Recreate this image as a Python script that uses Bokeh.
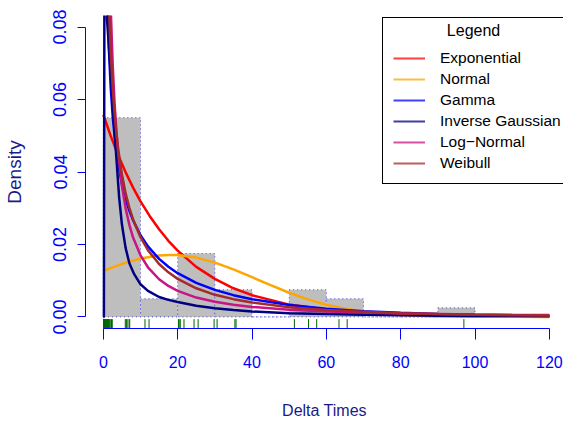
import math
from bokeh.plotting import figure
from bokeh.models import Range1d, FixedTicker, PrintfTickFormatter, Legend, LegendItem, Label
from bokeh.embed import file_html
from bokeh.resources import INLINE

# ---------------- data ----------------
bin_left = [0, 10, 20, 30, 40, 50, 60, 70, 80, 90]
bin_right = [10, 20, 30, 40, 50, 60, 70, 80, 90, 100]
bin_density = [0.055, 0.005, 0.0175, 0.0075, 0.0, 0.0075, 0.005, 0.0, 0.0, 0.0025]

rug_values = [0.05, 0.1, 0.2, 0.3, 0.4, 0.5, 0.6, 0.8, 0.9, 1.1, 1.2, 1.4, 1.5, 1.7,
              2.0, 2.2, 2.4, 5.9, 6.2, 6.4, 6.9, 7.1, 11.2, 12.3, 20.2, 20.4, 20.7,
              21.7, 24.4, 25.5, 29.8, 30.6, 35.4, 35.7, 51.4, 55.2, 57.4, 63.4, 65.6, 97.0]

exp_x = [0, 2, 4, 6, 8, 10, 12.5, 15, 17.5, 20, 25, 30, 35, 40, 50, 60, 70, 80, 90, 100, 110, 120]
exp_y = [0.0558, 0.0499, 0.0446, 0.0399, 0.0357, 0.0319, 0.0278, 0.0242, 0.0210, 0.0183, 0.0138,
         0.0105, 0.0079, 0.0060, 0.0034, 0.0020, 0.0011, 0.00064, 0.00037, 0.00021, 0.00012, 0.00007]

norm_x = [0, 5, 10, 15, 18, 20, 25, 30, 35, 40, 45, 50, 55, 60, 65, 70, 75, 80, 90, 100, 110, 120]
norm_y = [0.0127, 0.01465, 0.01614, 0.01698, 0.01712, 0.01706, 0.01637, 0.01499, 0.01312, 0.01096,
          0.00875, 0.00667, 0.00485, 0.00337, 0.00224, 0.00142, 0.00086, 0.0005, 0.00014, 0.00004,
          0.00001, 0.0]

gam_x = [1.0, 1.5, 2, 2.5, 3, 3.5, 4, 5, 6, 7, 8, 10, 12, 15, 17.5, 20, 25, 30, 35, 40, 50, 60,
         70, 80, 90, 100, 110, 120]
gam_y = [0.0917, 0.0738, 0.0631, 0.0556, 0.0501, 0.0457, 0.0422, 0.0367, 0.0326, 0.0293, 0.0267,
         0.02255, 0.01947, 0.01601, 0.01383, 0.01206, 0.00938, 0.00745, 0.00600, 0.00488, 0.00330,
         0.00228, 0.00159, 0.00113, 0.00080, 0.00058, 0.00042, 0.00030]

ig_x = [0, 0.15, 0.45, 1.0, 1.5, 2.0, 2.5, 3.0, 3.5, 4.25, 5.0, 6.0, 7.0, 8.3, 10, 12, 15, 17.5,
        20, 25, 30, 35, 40, 50, 60, 70, 80, 90, 100, 110, 120]
ig_y = [0, 0, 0.20, 0.082, 0.0745, 0.067, 0.059, 0.0515, 0.044, 0.033, 0.0255, 0.019, 0.0148,
        0.0118, 0.0090, 0.0072, 0.0055, 0.0047, 0.0041, 0.0031, 0.0024, 0.0019, 0.0015, 0.0010,
        0.0008, 0.0006, 0.00045, 0.00035, 0.00028, 0.00022, 0.00018]

ln_x = [1.5, 1.75, 2, 2.5, 3, 3.5, 4, 5, 6, 7, 8, 10, 12, 15, 17.5, 20, 25, 30, 35, 40, 50, 60,
        70, 80, 90, 100, 110, 120]
ln_y = [0.1068, 0.0946, 0.0848, 0.0700, 0.0594, 0.0515, 0.0453, 0.0362, 0.0300, 0.0254, 0.0219,
        0.0170, 0.0137, 0.0104, 0.00855, 0.0072, 0.00534, 0.00416, 0.00335, 0.00276, 0.00199,
        0.00151, 0.00119, 0.00096, 0.00080, 0.00067, 0.00057, 0.00050]

wb_x = [1.25, 1.5, 1.75, 2, 2.5, 3, 3.5, 4, 5, 6, 7, 8, 10, 12, 15, 17.5, 20, 25, 30, 35, 40, 50,
        60, 70, 80, 90, 100, 110, 120]
wb_y = [0.0955, 0.0862, 0.0788, 0.0728, 0.0634, 0.0563, 0.0508, 0.0463, 0.0393, 0.0341, 0.0301,
        0.0269, 0.0220, 0.0184, 0.0146, 0.0123, 0.0105, 0.0079, 0.0061, 0.0049, 0.0040, 0.00268,
        0.0019, 0.00139, 0.00103, 0.00078, 0.0006, 0.00047, 0.00037]

series_names = ["Exponential", "Normal", "Gamma", "Inverse Gaussian", "Log\u2212Normal", "Weibull"]
series_colors = ["#FF0000", "#FFA500", "#0000FF", "#000080", "#C71585", "#A52A2A"]
x_ticks = [0, 20, 40, 60, 80, 100, 120]
y_ticks = [0.0, 0.02, 0.04, 0.06, 0.08]

# ---------------- figure ----------------
FONT = "Liberation Sans"
y0, y1 = -0.0032, 0.0832
p = figure(width=563, height=425, output_backend="svg", toolbar_location=None,
           x_range=Range1d(-4.8, 123.8), y_range=Range1d(y0, y1),
           min_border_left=85, min_border_right=0, min_border_top=15, min_border_bottom=97)
p.grid.visible = False
p.outline_line_color = None
p.background_fill_color = "white"

# histogram
p.quad(left=bin_left, right=bin_right, bottom=0, top=bin_density,
       fill_color="#BEBEBE", line_color="#4848d8", line_width=1, line_dash="1 3")

# density curves
curves = [(exp_x, exp_y), (norm_x, norm_y), (gam_x, gam_y), (ig_x, ig_y), (ln_x, ln_y), (wb_x, wb_y)]
for (cx, cy), col in zip(curves, series_colors):
    p.line(cx, cy, line_color=col, line_width=2.5)

# rug
rug_top = y0 + 0.03 * (y1 - y0)
p.segment(x0=rug_values, y0=[y0] * len(rug_values), x1=rug_values, y1=[rug_top] * len(rug_values),
          line_color="#006400", line_width=1)

# axes
for ax in (p.xaxis[0], p.yaxis[0]):
    ax.axis_line_color = "#0000FF"
    ax.major_tick_line_color = "#0000FF"
    ax.minor_tick_line_color = None
    ax.major_tick_in = 0
    ax.major_label_text_color = "#0000FF"
    ax.major_label_text_font = FONT
    ax.axis_label_text_font = FONT
    ax.axis_label_text_font_style = "normal"
    ax.axis_label_text_color = "#1a1a8a"

xa = p.xaxis[0]
xa.ticker = FixedTicker(ticks=x_ticks)
xa.bounds = (0, 120)
xa.major_tick_out = 11
xa.major_label_text_font_size = "16px"
xa.major_label_standoff = 16
xa.axis_label = "Delta Times"
xa.axis_label_text_font_size = "16px"
xa.axis_label_standoff = 31

ya = p.yaxis[0]
ya.ticker = FixedTicker(ticks=y_ticks)
ya.formatter = PrintfTickFormatter(format="%.2f")
ya.bounds = (0, 0.08)
ya.major_tick_out = 8
ya.major_label_orientation = "parallel"
ya.major_label_text_font_size = "18px"
ya.major_label_standoff = 11
ya.axis_label = "Density"
ya.axis_label_text_font_size = "19px"
ya.axis_label_standoff = 26

# legend (sample lines only; no data drawn)
nan = float("nan")
items = []
for name, col in zip(series_names, series_colors):
    r = p.line(x=[nan], y=[nan], line_color=col, line_width=2, line_alpha=0.75)
    items.append(LegendItem(label=name, renderers=[r]))
legend = Legend(items=items, location=(297, 144), title=" ",
                title_text_font_size="16px", title_standoff=2,
                border_line_color="black", border_line_width=1, border_line_alpha=1,
                background_fill_color="white", background_fill_alpha=0,
                padding=10, margin=0, spacing=1, glyph_width=32, glyph_height=20,
                label_height=20, label_standoff=15, label_text_font=FONT,
                label_text_font_size="15.5px", label_text_color="black")
p.add_layout(legend)
p.add_layout(Label(x=99.6, y=0.0791, text="Legend", text_align="center", text_baseline="middle",
                   text_font=FONT, text_font_size="16px", text_color="black"))

open("out.html", "w").write(file_html(p, INLINE))
